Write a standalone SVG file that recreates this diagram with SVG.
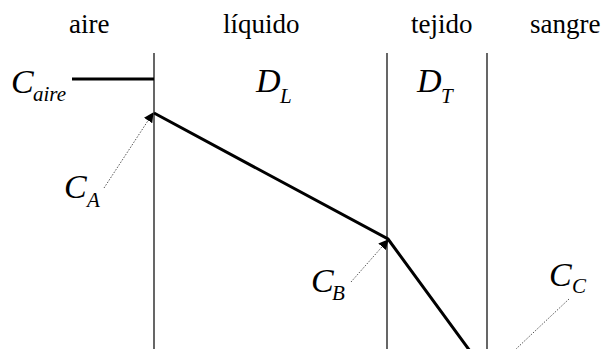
<svg xmlns="http://www.w3.org/2000/svg" width="604" height="349" viewBox="0 0 604 349">
<style>
.wall{stroke:#000;stroke-width:1.2;fill:none}
.thick{stroke:#000;stroke-width:3;fill:none;stroke-linejoin:miter}
.dot{stroke:#555;stroke-width:1;stroke-dasharray:1.5 1.5;fill:none}
</style>
<defs>
<marker id="ah" markerWidth="10" markerHeight="10" refX="9" refY="5" orient="auto" markerUnits="userSpaceOnUse">
<path d="M0,0 L10,5 L0,10 z" fill="#000"/>
</marker>
</defs>
<g id="headers">
<text font-family="Liberation Serif" font-size="27" x="69" y="33">aire</text>
<text font-family="Liberation Serif" font-size="27" x="223" y="33">líquido</text>
<text font-family="Liberation Serif" font-size="27" x="411" y="33">tejido</text>
<text font-family="Liberation Serif" font-size="27" x="530" y="33">sangre</text>
</g>
<g id="walls">
<line class="wall" x1="154" y1="53" x2="154" y2="349"/>
<line class="wall" x1="387" y1="53" x2="387" y2="349"/>
<line class="wall" x1="487" y1="53" x2="487" y2="349"/>
</g>
<g id="profile">
<line class="thick" x1="72" y1="79" x2="154" y2="79"/>
<polyline class="thick" points="154,113 388,239 470,351"/>
</g>
<g id="connectors">
<line class="dot" x1="104" y1="188" x2="153" y2="113" marker-end="url(#ah)"/>
<line class="dot" x1="351" y1="282" x2="388" y2="240" marker-end="url(#ah)"/>
<line class="dot" x1="569" y1="299" x2="516" y2="349"/>
</g>
<g id="label-Caire"><text font-family="Liberation Serif" font-style="italic" font-size="34" x="11" y="93">C</text><text font-family="Liberation Serif" font-style="italic" font-size="21" x="33" y="101">aire</text></g>
<g id="label-DL"><text font-family="Liberation Serif" font-style="italic" font-size="34" x="256" y="92">D</text><text font-family="Liberation Serif" font-style="italic" font-size="21" x="280" y="103">L</text></g>
<g id="label-DT"><text font-family="Liberation Serif" font-style="italic" font-size="34" x="417" y="92">D</text><text font-family="Liberation Serif" font-style="italic" font-size="21" x="441" y="103">T</text></g>
<g id="label-CA"><text font-family="Liberation Serif" font-style="italic" font-size="34" x="64" y="198">C</text><text font-family="Liberation Serif" font-style="italic" font-size="21" x="87" y="207">A</text></g>
<g id="label-CB"><text font-family="Liberation Serif" font-style="italic" font-size="34" x="311" y="292">C</text><text font-family="Liberation Serif" font-style="italic" font-size="21" x="332" y="300">B</text></g>
<g id="label-CC"><text font-family="Liberation Serif" font-style="italic" font-size="34" x="549" y="286">C</text><text font-family="Liberation Serif" font-style="italic" font-size="21" x="572" y="293">C</text></g>
</svg>
